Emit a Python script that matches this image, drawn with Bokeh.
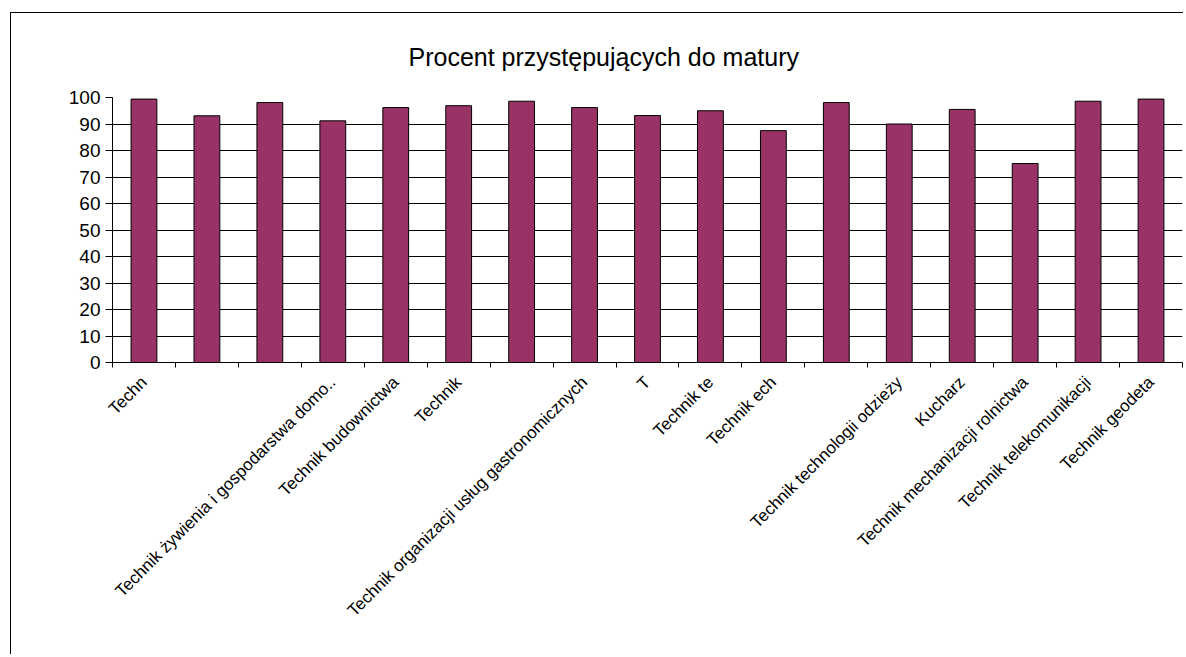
import math
from bokeh.plotting import figure
from bokeh.models import FixedTicker, Range1d
from bokeh.embed import file_html
from bokeh.resources import INLINE

title_text = "Procent przystępujących do matury"

categories = [
    "Techn",
    " ",
    "  ",
    "Technik żywienia i gospodarstwa domo..",
    "Technik budownictwa",
    "Technik",
    "   ",
    "Technik organizacji usług gastronomicznych",
    "T",
    "Technik te",
    "Technik ech",
    "    ",
    "Technik technologii odzieży",
    "Kucharz",
    "Technik mechanizacji rolnictwa",
    "Technik telekomunikacji",
    "Technik geodeta",
]

values = [99.4, 93.1, 98.1, 91.2, 96.2, 96.9, 98.6, 96.2, 93.2, 95.0,
          87.5, 98.1, 90.0, 95.5, 75.1, 98.6, 99.4]

y_ticks = [0, 10, 20, 30, 40, 50, 60, 70, 80, 90, 100]

FONT = "Liberation Sans"
BAR = "#993366"

n = len(categories)
xs = list(range(1, n + 1))

p = figure(
    width=1173, height=642,
    output_backend="svg", toolbar_location=None,
    x_range=Range1d(0.5, n + 0.5), y_range=Range1d(0, 100),
    min_border_left=101, min_border_right=2,
    min_border_top=83, min_border_bottom=293,
)
p.margin = (12, 0, 0, 10)
p.styles = {"border-top": "1px solid black", "border-left": "1px solid black"}
p.outline_line_color = None
p.background_fill_color = "white"
p.border_fill_color = "white"

p.vbar(x=xs, top=values, width=0.41, fill_color=BAR,
       line_color="black", line_width=1)

# x axis
p.xaxis.ticker = FixedTicker(ticks=xs, minor_ticks=[i + 0.5 for i in range(n + 1)])
p.xaxis.major_label_overrides = {x: lab for x, lab in zip(xs, categories)}
p.xaxis.major_label_orientation = math.pi / 4
p.xaxis.major_tick_out = 0
p.xaxis.major_tick_in = 0
p.xaxis.minor_tick_out = 5
p.xaxis.minor_tick_in = 0
p.xaxis.minor_tick_line_color = "black"
p.xaxis.axis_line_color = "black"
p.xaxis.major_label_text_font = FONT
p.xaxis.major_label_text_font_size = "17px"
p.xaxis.major_label_text_color = "black"
p.xaxis.major_label_standoff = 12
p.xgrid.visible = False

# y axis
p.yaxis.ticker = FixedTicker(ticks=y_ticks)
p.yaxis.major_tick_out = 7
p.yaxis.major_tick_in = 0
p.yaxis.minor_tick_out = 0
p.yaxis.minor_tick_in = 0
p.yaxis.axis_line_color = "black"
p.yaxis.major_tick_line_color = "black"
p.yaxis.major_label_text_font = FONT
p.yaxis.major_label_text_font_size = "19px"
p.yaxis.major_label_text_color = "black"
p.yaxis.major_label_standoff = 5
p.ygrid.ticker = FixedTicker(ticks=y_ticks)
p.ygrid.grid_line_color = "black"
p.ygrid.grid_line_width = 1

# title
p.title.text = title_text
p.title.text_font = FONT
p.title.text_font_size = "25px"
p.title.text_font_style = "normal"
p.title.text_color = "black"
p.title.align = "left"
p.title.offset = 296
p.title.standoff = 54

open("out.html", "w").write(file_html(p, INLINE))
